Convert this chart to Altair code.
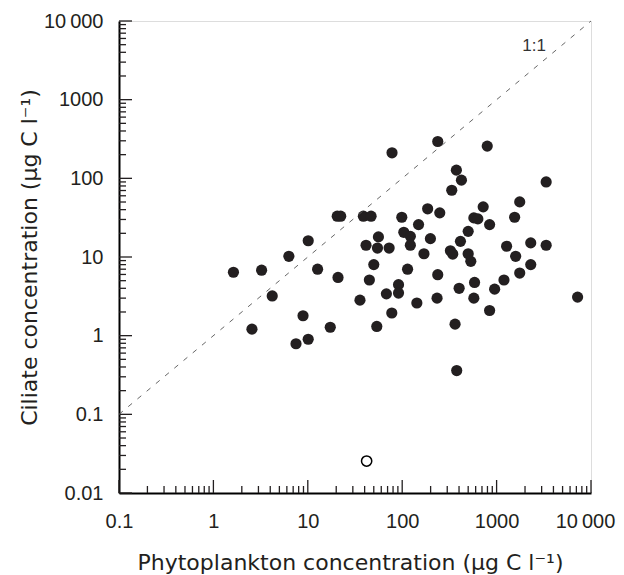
import altair as alt
import pandas as pd

# ---- data ----
phyto = [1.63, 3.24, 4.2, 2.56, 6.3, 10.1, 8.9, 7.5, 10.1, 12.7, 17.3, 20.9, 20.5, 22.3,
         38.8, 46.8, 35.7, 41.4, 44.9, 50, 56, 54.7, 53.8, 68, 72.7, 78, 77.6, 91.4, 91.4,
         99, 104, 122, 122, 114, 149, 143, 170, 186, 199, 238, 250, 238, 234, 335, 375,
         424, 324, 343, 363, 378, 401, 414, 500, 500, 533, 584, 574, 574, 633, 721, 796,
         843, 843, 953, 1197, 1276, 1552, 1592, 1757, 1757, 2300, 2300, 3350, 3350, 7210]
ciliate = [6.4, 6.8, 3.2, 1.21, 10.2, 16.1, 1.79, 0.79, 0.90, 7.0, 1.28, 5.5, 33, 33,
           33, 33, 2.83, 14.1, 5.1, 8.0, 18, 13.0, 1.31, 3.4, 13, 211, 1.94, 4.45, 3.48,
           32, 20.6, 18.3, 14.1, 7.0, 25.8, 2.6, 11.0, 41, 17.1, 294, 36.4, 5.96, 3.0, 70.6, 127,
           94.8, 12.0, 10.9, 1.40, 0.36, 4.0, 15.8, 21.2, 11.0, 8.8, 4.75, 3.0, 31.4, 30.5, 43.4, 257,
           25.8, 2.09, 3.9, 5.1, 13.7, 32, 10.2, 50.2, 6.25, 15.1, 8.0, 90, 14.1, 3.09]
open_phyto = [42]
open_ciliate = [0.0255]

one_to_one = [0.1, 10000]
note_text = ["1:1"]
note_x = [2500]
note_y = [4800]

x_major = [0.1, 1, 10, 100, 1000, 10000]
y_major = [0.01, 0.1, 1, 10, 100, 1000, 10000]
mantissas = [2, 3, 4, 5, 6, 7, 8, 9]
x_decades = [0.1, 1, 10, 100, 1000]
y_decades = [0.01, 0.1, 1, 10, 100, 1000]

x_title = "Phytoplankton concentration (µg C l\u207b\u00b9)"
y_title = "Ciliate concentration (µg C l\u207b\u00b9)"

# ---- tables ----
pts = pd.DataFrame({"x": phyto, "y": ciliate})
opn = pd.DataFrame({"x": open_phyto, "y": open_ciliate})
diag = pd.DataFrame({"x": one_to_one, "y": one_to_one})
note = pd.DataFrame({"x": note_x, "y": note_y, "t": note_text})
xmaj = pd.DataFrame({"x": x_major})
ymaj = pd.DataFrame({"y": y_major})
xmin = pd.DataFrame({"x": [d * m for d in x_decades for m in mantissas]})
ymin = pd.DataFrame({"y": [d * m for d in y_decades for m in mantissas]})

W = 472
H = 472
FONT = "Liberation Sans"
TFONT = "DejaVu Sans"
INK = "#231f20"

xs = alt.Scale(type="log", domain=[0.1, 10000], nice=False)
ys = alt.Scale(type="log", domain=[0.01, 10000], nice=False)

label_expr = "datum.value == 10000 ? '10\u2009000' : format(datum.value, '~g')"

x_axis = alt.Axis(values=x_major, title=x_title, labelExpr=label_expr, ticks=False, tickSize=0,
                  grid=False, domainColor="black", domainWidth=2,
                  labelFont=FONT, labelFontSize=20, labelColor=INK, labelPadding=34,
                  labelBaseline="alphabetic", labelFlush=False, labelOverlap=False,
                  labelOffset={"condition": {"test": "datum.value == 10000", "value": -6}, "value": 0},
                  titleFont=TFONT, titleFontSize=22, titleFontWeight="normal", titleColor=INK,
                  titleX=231, titleY=76, titleBaseline="alphabetic")
y_axis = alt.Axis(values=y_major, title=y_title, labelExpr=label_expr, ticks=False, tickSize=0,
                  grid=False, domainColor="black", domainWidth=2,
                  labelFont=FONT, labelFontSize=20, labelColor=INK, labelPadding=16,
                  labelFlush=False, labelOverlap=False,
                  titleFont=TFONT, titleFontSize=22, titleFontWeight="normal", titleColor=INK,
                  titleX=-83, titleY=236, titleBaseline="alphabetic")

points = alt.Chart(pts).mark_circle(size=125, color=INK, opacity=1).encode(
    x=alt.X("x:Q", scale=xs, axis=x_axis, title=x_title),
    y=alt.Y("y:Q", scale=ys, axis=y_axis, title=y_title),
)
open_pt = alt.Chart(opn).mark_point(shape="circle", size=105, filled=False, fill="white",
                                    stroke="black", strokeWidth=1.5, opacity=1).encode(
    x=alt.X("x:Q", scale=xs, title=x_title),
    y=alt.Y("y:Q", scale=ys, title=y_title),
)
line = alt.Chart(diag).mark_line(color="#555555", strokeWidth=0.9, strokeDash=[5, 7]).encode(
    x=alt.X("x:Q", scale=xs, title=x_title),
    y=alt.Y("y:Q", scale=ys, title=y_title),
)
label = alt.Chart(note).mark_text(font=FONT, fontSize=17, color="#333333",
                                  align="center", baseline="middle").encode(
    x=alt.X("x:Q", scale=xs, title=x_title),
    y=alt.Y("y:Q", scale=ys, title=y_title),
    text="t:N",
)

def xticks(df, length):
    return alt.Chart(df).mark_rule(color=INK, strokeWidth=1.3).encode(
        x=alt.X("x:Q", scale=xs, title=x_title),
        y=alt.value(H), y2=alt.value(H - length))

def yticks(df, length):
    return alt.Chart(df).mark_rule(color=INK, strokeWidth=1.3).encode(
        y=alt.Y("y:Q", scale=ys, title=y_title),
        x=alt.value(0), x2=alt.value(length))

chart = alt.layer(
    points, xticks(xmaj, 13), xticks(xmin, 7), yticks(ymaj, 13), yticks(ymin, 7),
    line, open_pt, label,
).properties(
    width=W, height=H,
    padding={"left": 111, "top": 13, "right": 25, "bottom": 82},
    autosize=alt.AutoSizeParams(type="none"),
).configure_view(stroke="#333333", strokeWidth=1.5).configure(background="white")

chart.save("out.html", embed_options={"renderer": "svg", "actions": False})
